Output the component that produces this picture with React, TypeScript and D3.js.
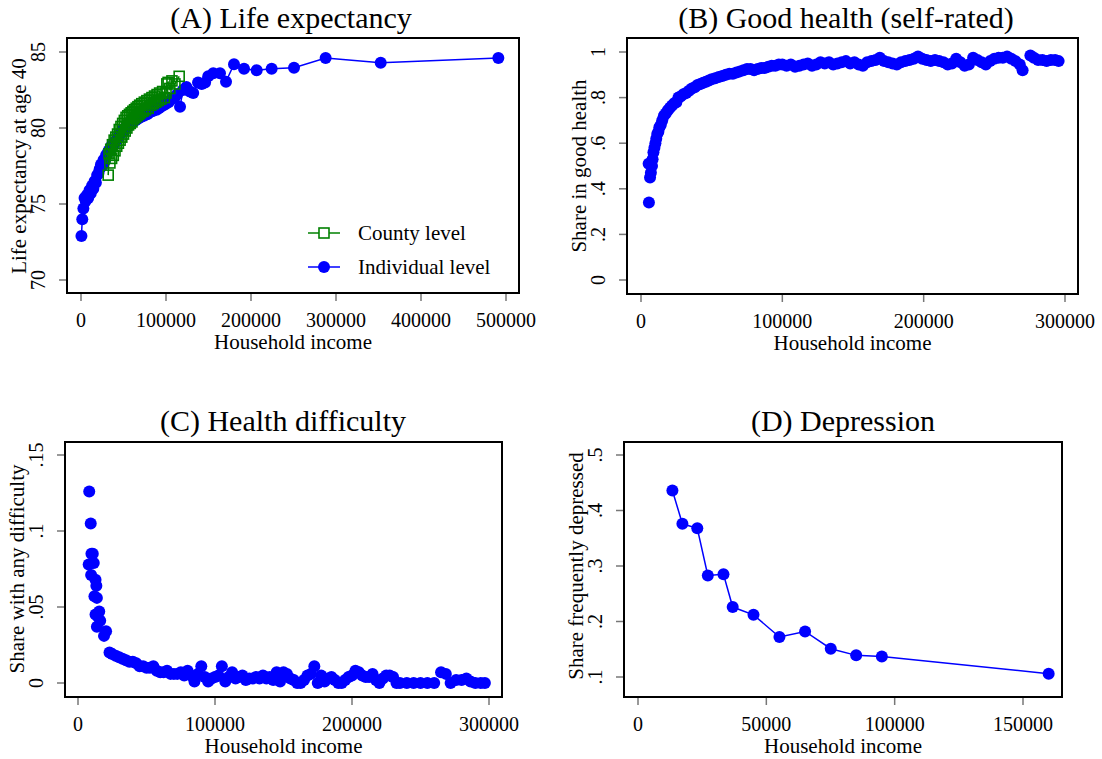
import * as d3 from 'd3';

const FONT = '"Liberation Serif", "Times New Roman", serif';
const BLUE = '#0000ff';
const GREEN = '#008000';
const TICK = '#777777';

// (A) Life expectancy at age 40, individual level (income percentile means)
const lifeIndividual: [number, number][] = [
  [500, 72.9], [1500, 74.0], [2800, 74.7], [4200, 75.4], [5500, 75.2], [7000, 75.6],
  [8500, 75.4], [10000, 75.9], [11500, 75.7], [13000, 76.2], [14500, 76.0], [16000, 76.5],
  [17500, 76.4], [19000, 76.9], [20500, 77.0], [22000, 77.3], [23500, 77.6], [25000, 77.5],
  [26500, 77.9], [28000, 77.8], [29500, 78.2], [31000, 78.3], [32500, 78.5], [34000, 78.6],
  [35500, 78.8], [37000, 78.9], [38500, 78.9], [40000, 79.1], [41500, 79.2], [43000, 79.3],
  [44500, 79.5], [46000, 79.6], [47500, 79.7], [49000, 79.9], [50500, 79.8], [52000, 80.0],
  [53500, 80.1], [55000, 80.1], [56500, 80.3], [58000, 80.3], [59500, 80.4], [61000, 80.4],
  [62500, 80.5], [64000, 80.5], [65500, 80.6], [67000, 80.6], [68500, 80.7], [70000, 80.7],
  [72000, 80.8], [74000, 80.8], [76000, 80.9], [78000, 80.9], [80000, 81.0], [82000, 81.1],
  [84000, 81.1], [86500, 81.2], [89000, 81.2], [91500, 81.3], [94000, 81.4], [97000, 81.5],
  [100000, 81.6], [103000, 81.7], [106500, 81.9], [110000, 82.0], [113000, 82.2], [116500, 81.4],
  [120000, 82.5], [124000, 82.7], [128000, 82.4], [132000, 82.3], [137700, 83.0], [142000, 82.9],
  [146000, 83.0], [149700, 83.4], [155600, 83.6], [163500, 83.6], [170600, 83.05], [180000, 84.2],
  [191800, 83.9], [206700, 83.8], [224300, 83.9], [250600, 83.97], [287800, 84.6], [352600, 84.3],
  [491000, 84.6],
];

// (A) county level
const lifeCounty: [number, number][] = [
  [32000, 76.9], [33000, 78.3], [34000, 77.7], [35000, 78.6], [36000, 78.0], [37000, 78.9],
  [38000, 78.2], [39000, 79.2], [40000, 78.5], [41000, 79.4], [42000, 78.8], [43000, 79.6],
  [44000, 79.0], [45000, 79.9], [46000, 79.2], [47000, 80.1], [48000, 79.4], [49000, 80.3],
  [50000, 79.6], [51000, 80.5], [52000, 79.8], [53000, 80.7], [54000, 80.0], [55000, 80.8],
  [56000, 80.2], [57000, 80.9], [58000, 80.3], [59000, 81.0], [60000, 80.4], [61000, 81.1],
  [62000, 80.6], [63000, 81.2], [64000, 80.7], [65000, 81.3], [66000, 80.8], [67000, 81.4],
  [68000, 80.9], [69000, 81.5], [70000, 81.0], [71500, 81.6], [73000, 81.1], [74500, 81.7],
  [76000, 81.2], [77500, 81.8], [79000, 81.3], [80500, 81.9], [82000, 81.5], [83500, 82.0],
  [85000, 81.6], [86500, 82.1], [88000, 81.7], [89500, 82.2], [91000, 81.8], [92500, 82.3],
  [94000, 81.9], [96000, 82.4], [98000, 82.0], [100000, 82.3], [101000, 82.9], [102500, 83.0],
  [104500, 82.6], [107000, 83.1], [110500, 82.9], [115500, 83.4],
];

// (B) Share in good health
const goodHealth: [number, number][] = [
  [5600, 0.34], [6400, 0.45], [7000, 0.47], [5400, 0.51], [7800, 0.50], [8200, 0.53],
  [8800, 0.56], [9500, 0.58], [10200, 0.60], [10800, 0.62], [11500, 0.64], [12300, 0.65],
  [13000, 0.67], [14000, 0.68], [15000, 0.70], [16200, 0.72], [17500, 0.73], [19000, 0.745],
  [20500, 0.755], [22000, 0.765], [23500, 0.775], [25000, 0.78], [26500, 0.80], [28000, 0.805],
  [30000, 0.815], [32000, 0.82], [34000, 0.83], [36000, 0.84], [38000, 0.845], [40000, 0.855],
  [42000, 0.86], [44000, 0.865], [46000, 0.87], [48000, 0.875], [50000, 0.88], [52500, 0.885],
  [55000, 0.89], [57500, 0.895], [60000, 0.90], [62500, 0.905], [65000, 0.905], [67500, 0.91],
  [70000, 0.915], [72500, 0.92], [75000, 0.925], [77500, 0.925], [80000, 0.92], [82500, 0.925],
  [85000, 0.93], [87500, 0.93], [90000, 0.935], [92500, 0.94], [95000, 0.94], [97500, 0.945],
  [100000, 0.945], [103000, 0.94], [106000, 0.945], [109000, 0.935], [112000, 0.94], [115000, 0.945],
  [118000, 0.95], [121000, 0.94], [124000, 0.945], [127000, 0.955], [130000, 0.95], [133000, 0.955],
  [136000, 0.945], [139000, 0.95], [142000, 0.955], [145000, 0.96], [148000, 0.95], [151000, 0.955],
  [154000, 0.945], [157000, 0.94], [160000, 0.955], [163000, 0.96], [166000, 0.965], [169000, 0.975],
  [172000, 0.96], [175000, 0.955], [178000, 0.95], [181000, 0.945], [184000, 0.955], [187000, 0.96],
  [190000, 0.965], [193000, 0.97], [196000, 0.98], [199000, 0.97], [202000, 0.965], [205000, 0.96],
  [208000, 0.965], [211000, 0.96], [214000, 0.955], [217000, 0.945], [220000, 0.95], [223000, 0.97],
  [226000, 0.955], [229000, 0.94], [232000, 0.945], [235000, 0.975], [238000, 0.965], [241000, 0.955],
  [244000, 0.945], [247000, 0.96], [250000, 0.97], [253000, 0.975], [256000, 0.975], [259000, 0.98],
  [262000, 0.97], [265000, 0.96], [268000, 0.945], [270000, 0.92], [275500, 0.985], [278000, 0.975],
  [281000, 0.965], [284000, 0.965], [287000, 0.96], [290000, 0.965], [293000, 0.965], [295500, 0.96],
];

// (C) Share with any difficulty
const difficulty: [number, number][] = [
  [8200, 0.126], [9300, 0.105], [9800, 0.085], [10800, 0.085], [7800, 0.078], [11500, 0.079],
  [9600, 0.071], [12800, 0.068], [13400, 0.064], [12000, 0.057], [13800, 0.056], [12800, 0.045],
  [15500, 0.047], [14200, 0.044], [16200, 0.041], [13800, 0.037], [20500, 0.034], [19000, 0.031],
  [23000, 0.020], [25000, 0.019], [27500, 0.018], [30000, 0.017], [32500, 0.016], [35000, 0.015],
  [37500, 0.014], [40000, 0.014], [42500, 0.013], [45000, 0.011], [47500, 0.011], [50000, 0.010],
  [52500, 0.010], [55000, 0.011], [57500, 0.008], [60000, 0.007], [62500, 0.007], [65000, 0.008],
  [67500, 0.006], [70000, 0.006], [72500, 0.006], [75000, 0.007], [77500, 0.005], [80000, 0.008],
  [82500, 0.005], [85000, 0.001], [87500, 0.006], [90000, 0.011], [92500, 0.004], [95000, 0.001],
  [97500, 0.003], [100000, 0.004], [102500, 0.005], [105000, 0.011], [107500, 0.001], [110000, 0.004],
  [112500, 0.007], [115000, 0.003], [117500, 0.004], [120000, 0.005], [122500, 0.002], [125000, 0.003],
  [127500, 0.003], [130000, 0.004], [132500, 0.003], [135000, 0.005], [137500, 0.003], [140000, 0.004],
  [142500, 0.002], [145000, 0.007], [147500, 0.001], [150000, 0.007], [152500, 0.006], [155000, 0.003],
  [157500, 0.002], [160000, 0.0], [162500, 0.0], [165000, 0.002], [167500, 0.005], [170000, 0.006],
  [172500, 0.011], [175000, 0.0], [177500, 0.005], [180000, 0.001], [182500, 0.003], [185000, 0.004],
  [187500, 0.002], [190000, 0.0], [192500, 0.0], [195000, 0.002], [197500, 0.004], [200000, 0.005],
  [202500, 0.008], [205000, 0.007], [207500, 0.005], [210000, 0.004], [212500, 0.004], [215000, 0.006],
  [217500, 0.002], [220000, 0.0], [222500, 0.003], [225000, 0.005], [227500, 0.005], [230000, 0.004],
  [232500, 0.0], [235000, 0.0], [240000, 0.0], [245000, 0.0], [250000, 0.0], [255000, 0.0],
  [260000, 0.0], [265000, 0.007], [268500, 0.006], [272000, 0.0], [276000, 0.002], [280000, 0.002],
  [283500, 0.003], [286500, 0.001], [290000, 0.0], [294000, 0.0], [297000, 0.0],
];

// (D) Share frequently depressed
const depression: [number, number][] = [
  [13400, 0.436], [17300, 0.376], [23100, 0.368], [27200, 0.283], [33300, 0.285], [36900, 0.226],
  [45000, 0.212], [55100, 0.172], [65100, 0.182], [75100, 0.151], [85000, 0.139], [95000, 0.137],
  [160000, 0.106],
];

const lifeXTicks = [0, 100000, 200000, 300000, 400000, 500000];
const lifeYTicks = [70, 75, 80, 85];
const healthXTicks = [0, 100000, 200000, 300000];
const goodYTicks = [0, 0.2, 0.4, 0.6, 0.8, 1];
const diffYTicks = [0, 0.05, 0.1, 0.15];
const depXTicks = [0, 50000, 100000, 150000];
const depYTicks = [0.1, 0.2, 0.3, 0.4, 0.5];

const legendItems = ['County level', 'Individual level'];

const fmtShare = (v: number) => (v === 0 ? '0' : v === 1 ? '1' : String(v).replace(/^0/, ''));

type Frame = { left: number; top: number; right: number; bottom: number };

function Axes(props: {
  frame: Frame;
  x: d3.ScaleLinear<number, number>;
  y: d3.ScaleLinear<number, number>;
  xTicks: number[];
  yTicks: number[];
  yFmt: (v: number) => string;
  title: string;
  titleX: number;
  titleY: number;
  xTitle: string;
  yTitle: string;
}) {
  const { frame, x, y, xTicks, yTicks, yFmt, title, titleX, titleY, xTitle, yTitle } = props;
  const cx = (frame.left + frame.right) / 2;
  const cy = (y.range()[0] + y.range()[1]) / 2;
  return (
    <g fontFamily={FONT} fill="#000">
      <rect
        x={frame.left}
        y={frame.top}
        width={frame.right - frame.left}
        height={frame.bottom - frame.top}
        fill="none"
        stroke="#000"
        strokeWidth={2}
      />
      {xTicks.map((t) => (
        <g key={'x' + t}>
          <line x1={x(t)} x2={x(t)} y1={frame.bottom + 1} y2={frame.bottom + 8} stroke={TICK} strokeWidth={1.5} />
          <text x={x(t)} y={frame.bottom + 34} textAnchor="middle" fontSize={20}>
            {d3.format('d')(t)}
          </text>
        </g>
      ))}
      {yTicks.map((t) => (
        <g key={'y' + t}>
          <line x1={frame.left - 8} x2={frame.left - 1} y1={y(t)} y2={y(t)} stroke={TICK} strokeWidth={1.5} />
          <text
            transform={`translate(${frame.left - 22},${y(t)}) rotate(-90)`}
            textAnchor="middle"
            fontSize={20}
          >
            {yFmt(t)}
          </text>
        </g>
      ))}
      <text x={titleX} y={titleY} textAnchor="middle" fontSize={30}>
        {title}
      </text>
      <text x={cx} y={frame.bottom + 56} textAnchor="middle" fontSize={21}>
        {xTitle}
      </text>
      <text transform={`translate(${frame.left - 41},${cy}) rotate(-90)`} textAnchor="middle" fontSize={21}>
        {yTitle}
      </text>
    </g>
  );
}

function Dots({ data, x, y }: { data: [number, number][]; x: d3.ScaleLinear<number, number>; y: d3.ScaleLinear<number, number> }) {
  return (
    <g fill={BLUE}>
      {data.map((d, i) => (
        <circle key={i} cx={x(d[0])} cy={y(d[1])} r={6} />
      ))}
    </g>
  );
}

export default function App() {
  // panel A
  const fA: Frame = { left: 67, top: 38, right: 519, bottom: 293 };
  const xA = d3.scaleLinear().domain([0, 500000]).range([81, 506]);
  const yA = d3.scaleLinear().domain([70, 85]).range([280, 52]);
  // panel B
  const fB: Frame = { left: 627, top: 38, right: 1078, bottom: 294 };
  const xB = d3.scaleLinear().domain([0, 300000]).range([641, 1065]);
  const yB = d3.scaleLinear().domain([0, 1]).range([280, 52]);
  // panel C
  const fC: Frame = { left: 65, top: 442, right: 502, bottom: 697 };
  const xC = d3.scaleLinear().domain([0, 300000]).range([78, 489]);
  const yC = d3.scaleLinear().domain([0, 0.15]).range([683, 455]);
  // panel D
  const fD: Frame = { left: 624, top: 442, right: 1062, bottom: 697 };
  const xD = d3.scaleLinear().domain([0, 150000]).range([638, 1023]);
  const yD = d3.scaleLinear().domain([0.1, 0.5]).range([677, 455]);

  const sorted = (a: [number, number][]) => [...a].sort((p, q) => p[0] - q[0]);
  const lineA = d3.line<[number, number]>().x((d) => xA(d[0])).y((d) => yA(d[1]));
  const lineD = d3.line<[number, number]>().x((d) => xD(d[0])).y((d) => yD(d[1]));

  const sq = 10;
  const legendX = 308;
  const legendY = [233, 267];

  return (
    <svg
      width={1102}
      height={759}
      style={{ position: 'absolute', left: 0, top: 0, background: '#fff' }}
    >
      <rect width={1102} height={759} fill="#fff" />

      {/* A */}
      <Axes
        frame={fA}
        x={xA}
        y={yA}
        xTicks={lifeXTicks}
        yTicks={lifeYTicks}
        yFmt={(v) => String(v)}
        title="(A) Life expectancy"
        titleX={291}
        titleY={28}
        xTitle="Household income"
        yTitle="Life expectancy at age 40"
      />
      <path d={lineA(sorted(lifeIndividual)) || ''} fill="none" stroke={BLUE} strokeWidth={1.5} />
      <Dots data={lifeIndividual} x={xA} y={yA} />
      <path d={lineA(sorted(lifeCounty)) || ''} fill="none" stroke={GREEN} strokeWidth={1.5} />
      <g fill="none" stroke={GREEN} strokeWidth={1.6}>
        {lifeCounty.map((d, i) => (
          <rect key={i} x={xA(d[0]) - sq / 2} y={yA(d[1]) - sq / 2} width={sq} height={sq} />
        ))}
      </g>
      {/* legend */}
      <g fontFamily={FONT} fontSize={21}>
        <line x1={legendX} x2={legendX + 32} y1={legendY[0]} y2={legendY[0]} stroke={GREEN} strokeWidth={1.5} />
        <rect x={legendX + 16 - sq / 2} y={legendY[0] - sq / 2} width={sq} height={sq} fill="#fff" stroke={GREEN} strokeWidth={1.6} />
        <text x={legendX + 50} y={legendY[0] + 7}>{legendItems[0]}</text>
        <line x1={legendX} x2={legendX + 32} y1={legendY[1]} y2={legendY[1]} stroke={BLUE} strokeWidth={1.5} />
        <circle cx={legendX + 16} cy={legendY[1]} r={6} fill={BLUE} />
        <text x={legendX + 50} y={legendY[1] + 7}>{legendItems[1]}</text>
      </g>

      {/* B */}
      <Axes
        frame={fB}
        x={xB}
        y={yB}
        xTicks={healthXTicks}
        yTicks={goodYTicks}
        yFmt={fmtShare}
        title="(B) Good health (self-rated)"
        titleX={846}
        titleY={28}
        xTitle="Household income"
        yTitle="Share in good health"
      />
      <Dots data={goodHealth} x={xB} y={yB} />

      {/* C */}
      <Axes
        frame={fC}
        x={xC}
        y={yC}
        xTicks={healthXTicks}
        yTicks={diffYTicks}
        yFmt={fmtShare}
        title="(C) Health difficulty"
        titleX={283}
        titleY={431}
        xTitle="Household income"
        yTitle="Share with any difficulty"
      />
      <Dots data={difficulty} x={xC} y={yC} />

      {/* D */}
      <Axes
        frame={fD}
        x={xD}
        y={yD}
        xTicks={depXTicks}
        yTicks={depYTicks}
        yFmt={fmtShare}
        title="(D) Depression"
        titleX={843}
        titleY={431}
        xTitle="Household income"
        yTitle="Share frequently depressed"
      />
      <path d={lineD(depression) || ''} fill="none" stroke={BLUE} strokeWidth={1.5} />
      <Dots data={depression} x={xD} y={yD} />
    </svg>
  );
}
